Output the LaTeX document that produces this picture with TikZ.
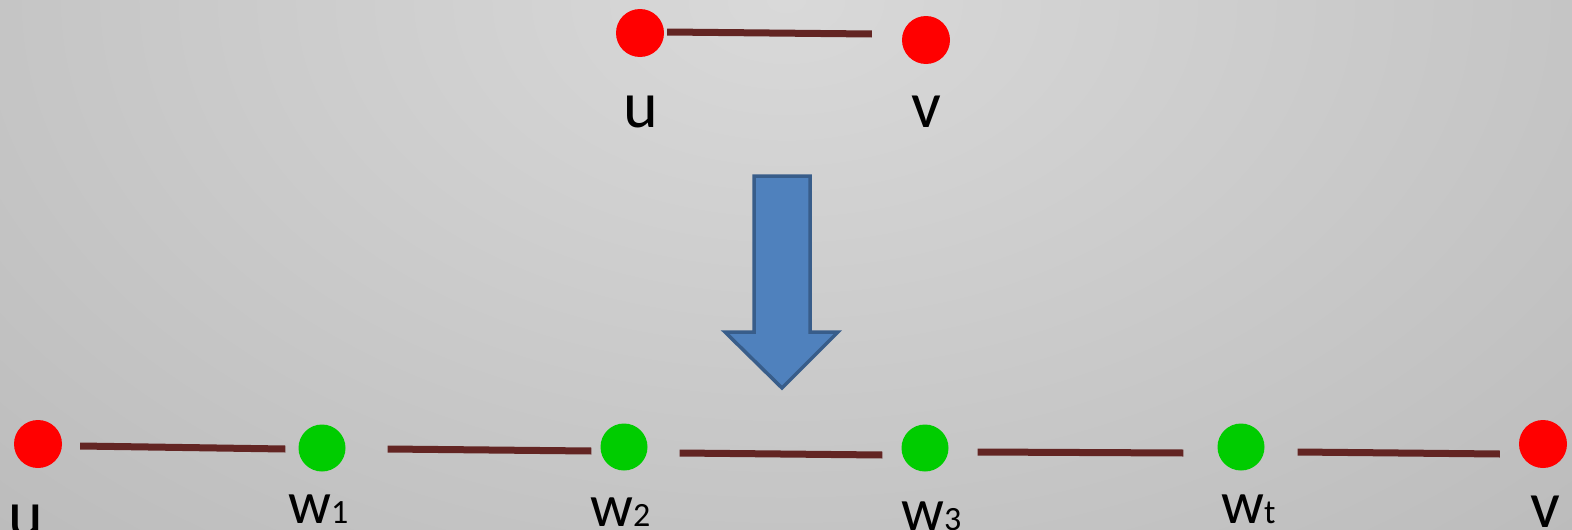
\documentclass[tikz,border=0pt]{standalone}
\usepackage{fontspec}
\setmainfont{Carlito}
\definecolor{bginner}{HTML}{D9D9D9}
\definecolor{bgouter}{HTML}{A6A6A6}
\definecolor{edgecol}{HTML}{632523}
\definecolor{vred}{HTML}{FF0000}
\definecolor{vgreen}{HTML}{00CC00}
\definecolor{arrfill}{HTML}{4F81BD}
\definecolor{arrdraw}{HTML}{385D8A}
\tikzset{
  redv/.style={circle, fill=vred, minimum size=48pt, inner sep=0pt},
  greenv/.style={circle, fill=vgreen, minimum size=47pt, inner sep=0pt},
  edge/.style={draw=edgecol, line width=7pt},
  biglbl/.style={anchor=base, inner sep=0pt, font=\fontsize{66}{66}\selectfont},
  wlbl/.style={anchor=base west, inner sep=0pt, font=\fontsize{60}{60}\selectfont},
}
\newcommand{\wsub}[1]{w{\fontsize{34}{34}\selectfont #1}}
\begin{document}
\begin{tikzpicture}[x=1pt,y=-1pt]
\useasboundingbox (0,0) rectangle (1572,530);
\begin{scope}
\clip (0,0) rectangle (1572,530);
\shade[inner color=bginner, outer color=bgouter] (786,0) ellipse [x radius=2000, y radius=1300];
\end{scope}
% top pair
\node[redv] (tu) at (640,33) {};
\node[redv] (tv) at (926,40) {};
\draw[edge] ([shift={(3,-1)}]tu.east) -- ([shift={(-30,-6)}]tv.west);
\node[biglbl] (tul) at (641,127) {u};
\node[biglbl] (tvl) at (926,127) {v};
% arrow
\draw[fill=arrfill, draw=arrdraw, line width=3.5pt, line join=miter]
  (754,176) -- (810,176) -- (810,332) -- (838,332) -- (782,388) -- (725,332) -- (754,332) -- cycle;
% bottom row
\node[redv] (bu) at (38,444) {};
\node[greenv] (w1) at (322,448) {};
\node[greenv] (w2) at (624,447) {};
\node[greenv] (w3) at (925,448) {};
\node[greenv] (wt) at (1241,447) {};
\node[redv] (bv) at (1543,444) {};
\draw[edge] ([shift={(18,2)}]bu.east) -- ([shift={(-13,1)}]w1.west);
\draw[edge] ([shift={(42,1)}]w1.east) -- ([shift={(-9,4)}]w2.west);
\draw[edge] ([shift={(32,6)}]w2.east) -- ([shift={(-19,7)}]w3.west);
\draw[edge] ([shift={(29,4)}]w3.east) -- ([shift={(-34,6)}]wt.west);
\draw[edge] ([shift={(33,5)}]wt.east) -- ([shift={(-19,10)}]bv.west);
\node[biglbl] (bul) at (26,536) {u};
\node[biglbl] (bvl) at (1545,527) {v};
\node[wlbl] (w1l) at (288,523) {\wsub{1}};
\node[wlbl] (w2l) at (590,526) {\wsub{2}};
\node[wlbl] (w3l) at (901,530) {\wsub{3}};
\node[wlbl] (wtl) at (1221,523) {\wsub{t}};
\end{tikzpicture}
\end{document}
